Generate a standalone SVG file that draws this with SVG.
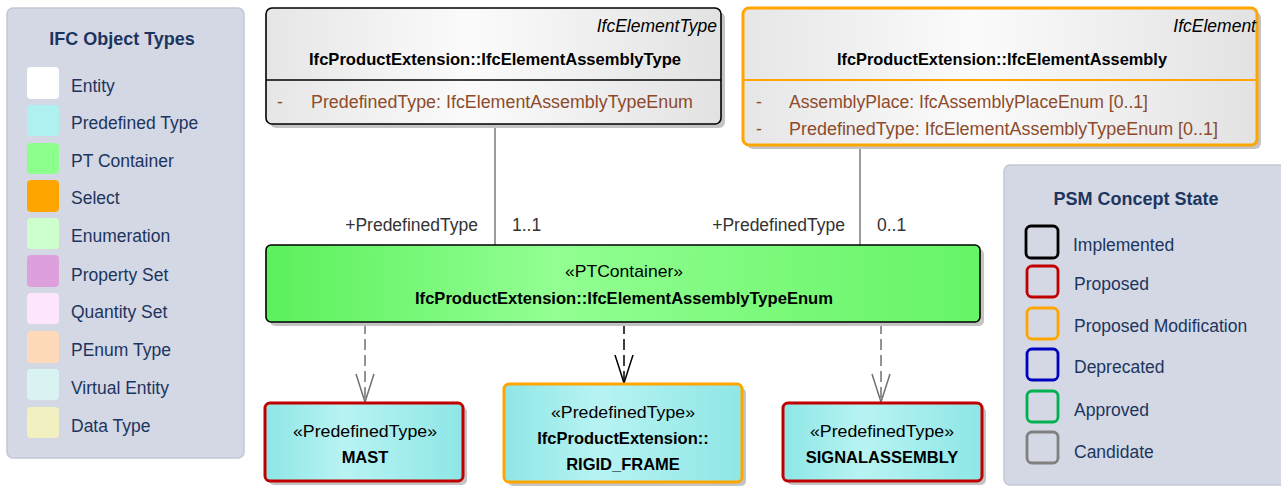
<svg xmlns="http://www.w3.org/2000/svg" width="1281" height="486" viewBox="0 0 1281 486">
<style>
text{font-family:"Liberation Sans",Arial,sans-serif}
.lg{fill:#d4d8e4;stroke:#c3c7d3;stroke-width:1.5}
.lgt{font-size:18px;font-weight:bold;fill:#1c355e}
.lgl{font-size:17.5px;fill:#1c355e}
.sw{stroke:none}
.st{fill:none;stroke-width:2.8}
.sh{fill:#c4c4c4}
.nt{font-size:16.5px;font-weight:bold;fill:#000}
.ns{font-size:17px;fill:#000}
.ni{font-size:17.5px;font-style:italic;fill:#000}
.at{font-size:17.5px;fill:#8e4b2c}
.cl{font-size:17.5px;fill:#333}
.dep{stroke-dasharray:11 5;stroke-width:1.5;fill:none}
</style>
<defs>
<linearGradient id="gGray" x1="0" y1="0" x2="1" y2="0">
<stop offset="0" stop-color="#e6e6e6"/><stop offset="0.45" stop-color="#fbfbfb"/><stop offset="1" stop-color="#e2e2e2"/>
</linearGradient>
<linearGradient id="gGreen" x1="0" y1="0" x2="1" y2="0">
<stop offset="0" stop-color="#5cf05c"/><stop offset="0.4" stop-color="#92ff92"/><stop offset="1" stop-color="#66f466"/>
</linearGradient>
<linearGradient id="gCyan" x1="0" y1="0" x2="1" y2="0">
<stop offset="0" stop-color="#8ee6e6"/><stop offset="0.4" stop-color="#b8f3f3"/><stop offset="1" stop-color="#8ee6e6"/>
</linearGradient>
<marker id="arrGray" markerWidth="30" markerHeight="20" refX="29" refY="10" orient="auto" markerUnits="userSpaceOnUse" viewBox="0 0 30 20">
<path d="M1,1 L29,10 L1,19" fill="none" stroke="#707070" stroke-width="1.5"/>
</marker>
<marker id="arrBlack" markerWidth="30" markerHeight="20" refX="29" refY="10" orient="auto" markerUnits="userSpaceOnUse" viewBox="0 0 30 20">
<path d="M1,1 L29,10 L1,19" fill="none" stroke="#000000" stroke-width="1.5"/>
</marker>
</defs>

<g id="legend-ifc">
<rect class="lg" x="7" y="8" width="237" height="450" rx="6"/>
<text class="lgt" x="122" y="45" text-anchor="middle">IFC Object Types</text>
<rect class="sw" x="27" y="67" width="32" height="32" rx="4" fill="#ffffff"/>
<text class="lgl" x="71" y="92">Entity</text>
<rect class="sw" x="27" y="105" width="32" height="31" rx="4" fill="#aff0f0"/>
<text class="lgl" x="71" y="129">Predefined Type</text>
<rect class="sw" x="27" y="143" width="32" height="31" rx="4" fill="#8cff8c"/>
<text class="lgl" x="71" y="167">PT Container</text>
<rect class="sw" x="27" y="180" width="32" height="32" rx="4" fill="#ffa500"/>
<text class="lgl" x="71" y="204">Select</text>
<rect class="sw" x="27" y="218" width="32" height="31" rx="4" fill="#ccffcc"/>
<text class="lgl" x="71" y="242">Enumeration</text>
<rect class="sw" x="27" y="255" width="32" height="32" rx="4" fill="#dda0dd"/>
<text class="lgl" x="71" y="281">Property Set</text>
<rect class="sw" x="27" y="293" width="32" height="31" rx="4" fill="#ffe6ff"/>
<text class="lgl" x="71" y="318">Quantity Set</text>
<rect class="sw" x="27" y="331" width="32" height="32" rx="4" fill="#ffdab9"/>
<text class="lgl" x="71" y="356">PEnum Type</text>
<rect class="sw" x="27" y="369" width="32" height="31" rx="4" fill="#d9f2f2"/>
<text class="lgl" x="71" y="394">Virtual Entity</text>
<rect class="sw" x="27" y="407" width="32" height="31" rx="4" fill="#f0f0c0"/>
<text class="lgl" x="71" y="432">Data Type</text>
</g>

<g id="legend-psm">
<rect class="lg" x="1004" y="165" width="285" height="320" rx="6"/>
<text class="lgt" x="1136" y="205" text-anchor="middle">PSM Concept State</text>
<rect class="st" x="1026" y="226" width="32" height="32" rx="5" stroke="#000000" stroke-width="1.6"/>
<text class="lgl" x="1073" y="251">Implemented</text>
<rect class="st" x="1027" y="266" width="31" height="31" rx="5" stroke="#c00000"/>
<text class="lgl" x="1074" y="290">Proposed</text>
<rect class="st" x="1027" y="308" width="31" height="31" rx="5" stroke="#ffa500"/>
<text class="lgl" x="1074" y="332">Proposed Modification</text>
<rect class="st" x="1027" y="349" width="31" height="31" rx="5" stroke="#0000c0"/>
<text class="lgl" x="1074" y="373">Deprecated</text>
<rect class="st" x="1027" y="391" width="31" height="31" rx="5" stroke="#00b050"/>
<text class="lgl" x="1074" y="416">Approved</text>
<rect class="st" x="1027" y="432" width="31" height="31" rx="5" stroke="#808080"/>
<text class="lgl" x="1074" y="458">Candidate</text>
</g>

<g id="connectors">
<line x1="495" y1="125" x2="495" y2="245" stroke="#666" stroke-width="1.3"/>
<text class="cl" x="478" y="231" text-anchor="end">+PredefinedType</text>
<text class="cl" x="512" y="231">1..1</text>
<line x1="860" y1="146" x2="860" y2="245" stroke="#666" stroke-width="1.3"/>
<text class="cl" x="845" y="231" text-anchor="end">+PredefinedType</text>
<text class="cl" x="877" y="231">0..1</text>
<line class="dep" x1="365" y1="323" x2="365" y2="402" stroke="#707070" marker-end="url(#arrGray)"/>
<line class="dep" x1="624" y1="323" x2="624" y2="383" stroke="#000000" marker-end="url(#arrBlack)"/>
<line class="dep" x1="881" y1="323" x2="881" y2="402" stroke="#707070" marker-end="url(#arrGray)"/>
</g>

<g id="node-elementassemblytype">
<rect class="sh" x="270" y="12" width="455" height="116" rx="6"/>
<rect x="266" y="8" width="455" height="116" rx="6" fill="url(#gGray)" stroke="#000" stroke-width="1.6"/>
<line x1="266" y1="80" x2="721" y2="80" stroke="#000" stroke-width="1.3"/>
<text class="ni" x="717" y="32" text-anchor="end">IfcElementType</text>
<text class="nt" x="495" y="65" text-anchor="middle" textLength="372" lengthAdjust="spacingAndGlyphs">IfcProductExtension::IfcElementAssemblyType</text>
<text class="at" x="277" y="108">-</text>
<text class="at" x="311" y="108" textLength="382" lengthAdjust="spacingAndGlyphs">PredefinedType: IfcElementAssemblyTypeEnum</text>
</g>

<g id="node-elementassembly">
<rect class="sh" x="747" y="12" width="514" height="137" rx="6"/>
<rect x="743" y="8" width="514" height="137" rx="6" fill="url(#gGray)" stroke="#ffa500" stroke-width="3"/>
<line x1="743" y1="80" x2="1257" y2="80" stroke="#ffa500" stroke-width="2.2"/>
<text class="ni" x="1256" y="32" text-anchor="end">IfcElement</text>
<text class="nt" x="1002" y="65" text-anchor="middle" textLength="330" lengthAdjust="spacingAndGlyphs">IfcProductExtension::IfcElementAssembly</text>
<text class="at" x="756" y="108">-</text>
<text class="at" x="789" y="108" textLength="359" lengthAdjust="spacingAndGlyphs">AssemblyPlace: IfcAssemblyPlaceEnum [0..1]</text>
<text class="at" x="756" y="135">-</text>
<text class="at" x="789" y="135" textLength="429" lengthAdjust="spacingAndGlyphs">PredefinedType: IfcElementAssemblyTypeEnum [0..1]</text>
</g>

<g id="node-ptcontainer">
<rect class="sh" x="270" y="249" width="714" height="77" rx="5"/>
<rect x="266" y="245" width="714" height="77" rx="5" fill="url(#gGreen)" stroke="#000" stroke-width="1.6"/>
<text class="ns" x="624" y="277" text-anchor="middle" font-size="17.5" textLength="118" lengthAdjust="spacingAndGlyphs">«PTContainer»</text>
<text class="nt" x="624" y="304" text-anchor="middle" textLength="418" lengthAdjust="spacingAndGlyphs">IfcProductExtension::IfcElementAssemblyTypeEnum</text>
</g>

<g id="node-mast">
<rect class="sh" x="269" y="407" width="198" height="78" rx="5"/>
<rect x="265" y="403" width="198" height="78" rx="5" fill="url(#gCyan)" stroke="#c00000" stroke-width="3"/>
<text class="ns" x="365" y="437" text-anchor="middle" textLength="144" lengthAdjust="spacingAndGlyphs">«PredefinedType»</text>
<text class="nt" x="365" y="463" text-anchor="middle" font-size="17">MAST</text>
</g>

<g id="node-rigidframe">
<rect class="sh" x="508" y="388" width="238" height="98" rx="5"/>
<rect x="504" y="384" width="238" height="98" rx="5" fill="url(#gCyan)" stroke="#ffa500" stroke-width="3"/>
<text class="ns" x="623" y="418" text-anchor="middle" textLength="144" lengthAdjust="spacingAndGlyphs">«PredefinedType»</text>
<text class="nt" x="623" y="444" text-anchor="middle" font-size="17">IfcProductExtension::</text>
<text class="nt" x="623" y="470" text-anchor="middle" font-size="17">RIGID_FRAME</text>
</g>

<g id="node-signalassembly">
<rect class="sh" x="787" y="407" width="199" height="78" rx="5"/>
<rect x="783" y="403" width="199" height="78" rx="5" fill="url(#gCyan)" stroke="#c00000" stroke-width="3"/>
<text class="ns" x="882" y="437" text-anchor="middle" textLength="144" lengthAdjust="spacingAndGlyphs">«PredefinedType»</text>
<text class="nt" x="882" y="463" text-anchor="middle" font-size="17">SIGNALASSEMBLY</text>
</g>
</svg>
